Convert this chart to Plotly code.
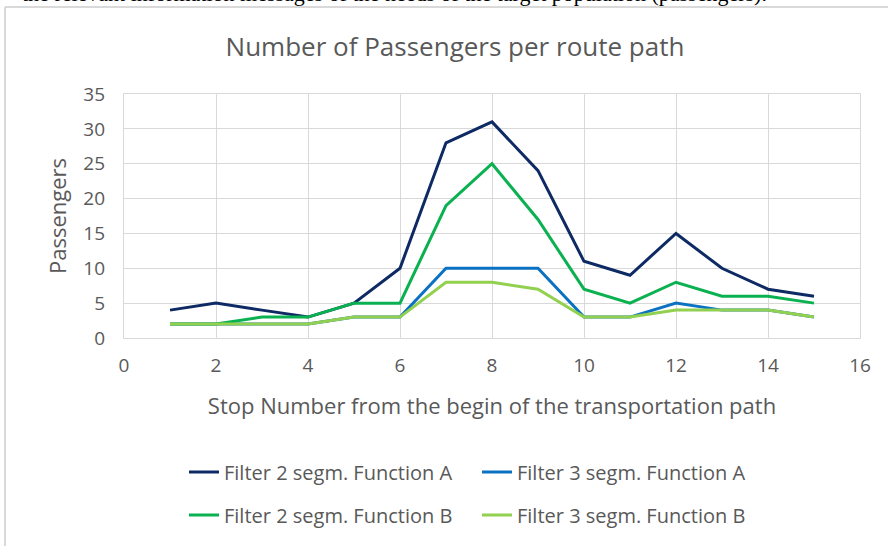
import plotly.graph_objects as go

stops = list(range(1, 16))
f2_func_a = [4, 5, 4, 3, 5, 10, 28, 31, 24, 11, 9, 15, 10, 7, 6]
f3_func_a = [2, 2, 2, 2, 3, 3, 10, 10, 10, 3, 3, 5, 4, 4, 3]
f2_func_b = [2, 2, 3, 3, 5, 5, 19, 25, 17, 7, 5, 8, 6, 6, 5]
f3_func_b = [2, 2, 2, 2, 3, 3, 8, 8, 7, 3, 3, 4, 4, 4, 3]

series = [
    ("Filter 2 segm. Function A", f2_func_a, "#0E2A64", "legend"),
    ("Filter 3 segm. Function A", f3_func_a, "#0B72C2", "legend"),
    ("Filter 2 segm. Function B", f2_func_b, "#0BB150", "legend2"),
    ("Filter 3 segm. Function B", f3_func_b, "#92D050", "legend2"),
]

W, H = 888, 546
L, R, T, B = 124, 860, 94, 338

def px(x):
    return (x - L) / (R - L)

def py(y):
    return (B - y) / (B - T)

fig = go.Figure()
for name, vals, color, lg in series:
    fig.add_trace(go.Scatter(x=stops, y=vals, mode="lines", name=name,
                             line=dict(color=color, width=3), legend=lg))

grid = "#D9D9D9"
txt = "#595959"
font_family = "Open Sans"

fig.update_layout(
    width=W, height=H,
    margin=dict(l=L, r=W - R, t=T, b=H - B),
    paper_bgcolor="white", plot_bgcolor="white",
    title=dict(text="Number of Passengers per route path", xref="container", x=455 / W,
               xanchor="center", y=1 - 47 / H, yanchor="middle",
               font=dict(family=font_family, size=26, color=txt)),
    xaxis=dict(range=[0, 16], dtick=2, showgrid=True, gridcolor=grid, gridwidth=1.3,
               showline=True, linecolor=grid, linewidth=1.3, mirror=True, zeroline=False,
               ticks="", ticklabelstandoff=10,
               tickfont=dict(family=font_family, size=19, color=txt),
               title=dict(text="Stop Number from the begin of the transportation path",
                          font=dict(family=font_family, size=22, color=txt), standoff=21)),
    yaxis=dict(range=[0, 35], dtick=5, showgrid=True, gridcolor=grid, gridwidth=1.3,
               showline=True, linecolor=grid, linewidth=1.3, mirror=True, zeroline=False,
               ticks="", ticklabelstandoff=14,
               tickfont=dict(family=font_family, size=19, color=txt),
               title=dict(text="Passengers",
                          font=dict(family=font_family, size=22, color=txt), standoff=10)),
    legend=dict(orientation="h", x=px(184), xanchor="left", y=py(472), yanchor="middle",
                font=dict(family=font_family, size=20, color=txt), entrywidth=248,
                bgcolor="rgba(0,0,0,0)", traceorder="normal"),
    legend2=dict(orientation="h", x=px(184), xanchor="left", y=py(515), yanchor="middle",
                 font=dict(family=font_family, size=20, color=txt), entrywidth=248,
                 bgcolor="rgba(0,0,0,0)", traceorder="normal"),
    showlegend=True,
)

# chart frame (top and left edges visible)
fig.add_shape(type="line", xref="paper", yref="paper", x0=px(5), x1=px(W + 5),
              y0=py(7), y1=py(7), line=dict(color=grid, width=2))
fig.add_shape(type="line", xref="paper", yref="paper", x0=px(5), x1=px(5),
              y0=py(7), y1=py(H + 5), line=dict(color=grid, width=2))

# clipped document text above the chart
fig.add_annotation(text="the relevant information messages of the needs of the target population (passengers).",
                   xref="paper", yref="paper", x=px(20), xanchor="left", y=py(8), yanchor="bottom",
                   showarrow=False, font=dict(family="Liberation Serif", size=22, color="#000000"))

fig.write_html("out.html", config={"displayModeBar": False},
               post_script="document.body.style.margin='0';document.body.style.overflow='hidden';")
